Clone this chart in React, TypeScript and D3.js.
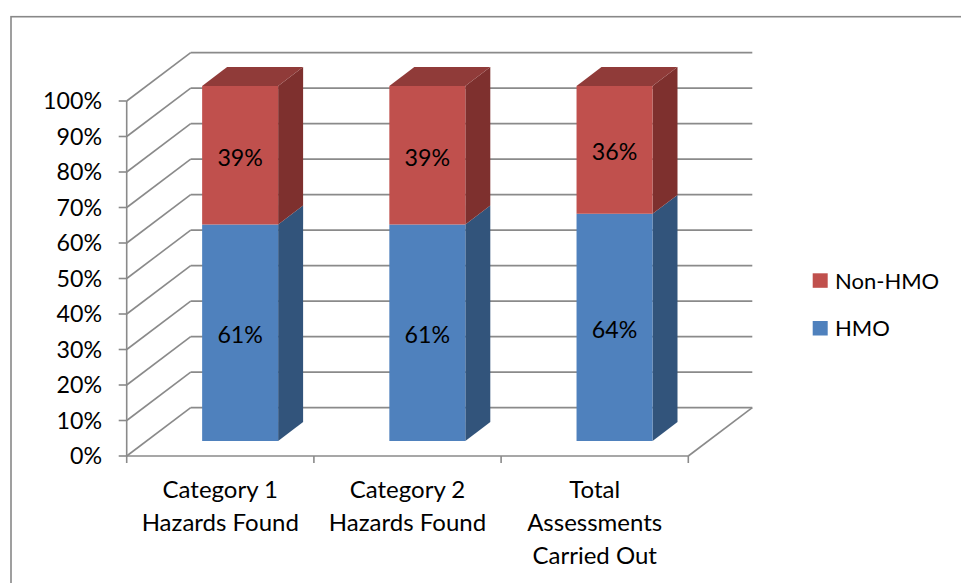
import React from "react";
import * as d3 from "d3";

// Categories and stacked shares (fractions of 100%)
const categories: string[][] = [
  ["Category 1", "Hazards Found"],
  ["Category 2", "Hazards Found"],
  ["Total", "Assessments", "Carried Out"],
];
const hmo: number[] = [0.61, 0.61, 0.64];
const nonHmo: number[] = [0.39, 0.39, 0.36];
const yTicks: number[] = d3.range(0, 1.0001, 0.1);
const seriesNames = ["HMO", "Non-HMO"];

const W = 961;
const H = 583;
const FONT = "Lato, 'Open Sans', sans-serif";

// colours: front, side, top
const palette = {
  HMO: { front: "#4F81BD", side: "#32547B", top: "#3B6494" },
  "Non-HMO": { front: "#C0504D", side: "#7E302E", top: "#903B39" },
};

export default function App() {
  // front plane
  const x0 = 126.7;
  const x1 = 688.3;
  const y = d3.scaleLinear().domain([0, 1]).range([456, 101]);
  const xBand = d3
    .scaleBand<number>()
    .domain(categories.map((_, i) => i))
    .range([x0, x1])
    .paddingInner(0)
    .paddingOuter(0);
  // depth projection
  const DX = 64;
  const DY = -48.4;
  const zFront = 0.31;
  const zBack = 0.70;
  const barFrac = 0.406;
  const P = (px: number, py: number, z: number): [number, number] => [px + DX * z, py + DY * z];
  const poly = (pts: [number, number][]) => pts.map((p) => p.join(",")).join(" ");

  const grid = "#8A8A8A";
  const gw = 1.6;

  const bars = categories.map((_, i) => {
    const bw = xBand.bandwidth() * barFrac;
    const cx = (xBand(i) as number) + xBand.bandwidth() / 2;
    const l = cx - bw / 2;
    const r = cx + bw / 2;
    const segs = [
      { name: "HMO", v0: 0, v1: hmo[i] },
      { name: "Non-HMO", v0: hmo[i], v1: hmo[i] + nonHmo[i] },
    ];
    return { i, l, r, segs, values: [hmo[i], nonHmo[i]] };
  });

  return (
    <svg
      width={W}
      height={H}
      style={{ position: "absolute", left: 0, top: 0, background: "#fff" }}
      fontFamily={FONT}
    >
      <rect x={11} y={16.7} width={1200} height={1200} fill="#fff" stroke="#888" strokeWidth={1.6} />

      {/* left wall diagonals and back wall gridlines */}
      {yTicks.map((t) => {
        const a = P(x0, y(t), 0);
        const b = P(x0, y(t), 1);
        const c = P(x1, y(t), 1);
        return (
          <g key={t}>
            <line x1={a[0]} y1={a[1]} x2={b[0]} y2={b[1]} stroke={grid} strokeWidth={gw} />
            <line x1={b[0]} y1={b[1]} x2={c[0]} y2={c[1]} stroke={grid} strokeWidth={gw} />
            <line x1={x0 - 8} y1={y(t)} x2={x0} y2={y(t)} stroke={grid} strokeWidth={gw} />
            <text
              x={102}
              y={y(t)}
              dy="0.36em"
              textAnchor="end"
              fontSize={23.2}
              fill="#000"
            >
              {d3.format(".0%")(t)}
            </text>
          </g>
        );
      })}
      {/* vertical axis */}
      <line x1={x0} y1={y(0)} x2={x0} y2={y(1)} stroke={grid} strokeWidth={gw} />
      {/* floor */}
      <line x1={x0} y1={y(0)} x2={x1} y2={y(0)} stroke={grid} strokeWidth={gw} />
      {(() => {
        const b = P(x1, y(0), 1);
        return <line x1={x1} y1={y(0)} x2={b[0]} y2={b[1]} stroke={grid} strokeWidth={gw} />;
      })()}
      {d3.range(categories.length + 1).map((k) => {
        const tx = x0 + k * xBand.bandwidth();
        return <line key={k} x1={tx} y1={y(0)} x2={tx} y2={y(0) + 7} stroke={grid} strokeWidth={gw} />;
      })}

      {/* bars */}
      {bars.map((b) => (
        <g key={b.i}>
          {b.segs.map((s, si) => {
            const col = palette[s.name as keyof typeof palette];
            const yb = y(s.v0);
            const yt = y(s.v1);
            const front = [P(b.l, yb, zFront), P(b.r, yb, zFront), P(b.r, yt, zFront), P(b.l, yt, zFront)];
            const side = [P(b.r, yb, zFront), P(b.r, yb, zBack), P(b.r, yt, zBack), P(b.r, yt, zFront)];
            const top = [P(b.l, yt, zFront), P(b.r, yt, zFront), P(b.r, yt, zBack), P(b.l, yt, zBack)];
            const isTop = si === b.segs.length - 1;
            const fx = (front[0][0] + front[1][0]) / 2;
            const fy = (front[0][1] + front[2][1]) / 2;
            return (
              <g key={s.name}>
                <polygon points={poly(side)} fill={col.side} />
                <polygon points={poly(front)} fill={col.front} />
                {isTop && <polygon points={poly(top)} fill={col.top} />}
                <text x={fx} y={fy + 2} dy="0.36em" textAnchor="middle" fontSize={23.2} fill="#000">
                  {Math.round(b.values[si] * 100)}%
                </text>
              </g>
            );
          })}
        </g>
      ))}

      {/* category labels */}
      {categories.map((lines, i) => {
        const cx = (xBand(i) as number) + xBand.bandwidth() / 2;
        return (
          <text key={i} x={cx} y={497.5} textAnchor="middle" fontSize={24} fill="#000">
            {lines.map((ln, k) => (
              <tspan key={k} x={cx} dy={k === 0 ? 0 : 33}>
                {ln}
              </tspan>
            ))}
          </text>
        );
      })}

      {/* legend */}
      {[...seriesNames].reverse().map((name, k) => {
        const col = palette[name as keyof typeof palette];
        const ly = 273.3 + k * 47.7;
        return (
          <g key={name}>
            <rect x={812.7} y={ly} width={15} height={14.5} fill={col.front} />
            <text x={835} y={ly + 7.3} dy="0.36em" fontSize={22} fill="#000">
              {name}
            </text>
          </g>
        );
      })}
    </svg>
  );
}
